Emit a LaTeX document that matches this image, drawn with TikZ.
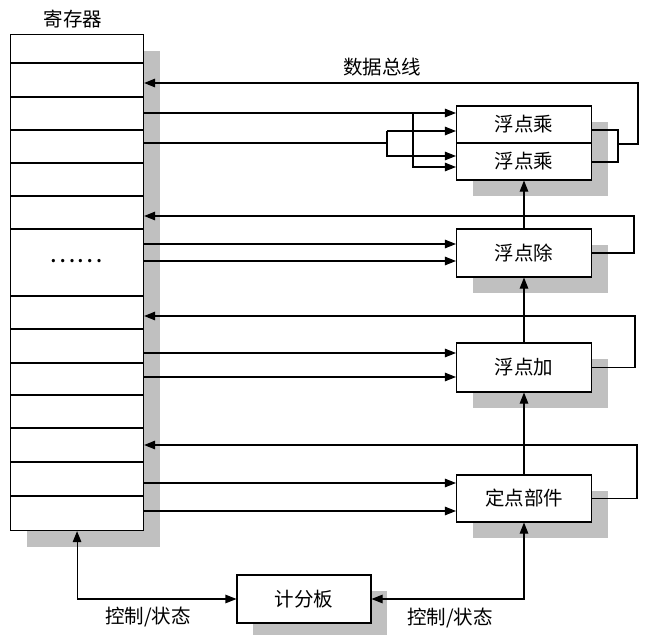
\documentclass[tikz,border=0pt]{standalone}
\usepackage{fontspec}
\newfontfamily\cjk{Noto Sans CJK SC}
\usetikzlibrary{arrows.meta,shadows}
\definecolor{shd}{RGB}{192,192,192}
\begin{document}
\begin{tikzpicture}[x=1pt,y=-1pt,line width=1.1pt,
  shd/.style={drop shadow={shadow xshift=16pt,shadow yshift=-16pt,fill=shd,opacity=1}},
  box/.style={draw,fill=white,minimum width=135pt,minimum height=48pt,inner sep=0pt,
    font=\cjk\fontsize{19.5}{19.5}\selectfont,shd},
  arr/.style={-{Triangle[length=11pt,width=8.5pt]}},
  dbl/.style={{Triangle[length=11pt,width=8.5pt]}-{Triangle[length=11pt,width=8.5pt]}},
  lbl/.style={font=\cjk\fontsize{19.5}{19.5}\selectfont,inner sep=0pt}]
\useasboundingbox (0,0) rectangle (657,635);

% register file
\node[draw,fill=white,minimum width=133pt,minimum height=496pt,inner sep=0pt,
      anchor=north west,shd] (reg) at (10,34) {};
\foreach \yy in {63,97,130,163,196,229,296,329,363,395,428,462,496}
  \draw (reg.west |- 0,\yy) -- (reg.east |- 0,\yy);
\node[font=\cjk\fontsize{25}{25}\selectfont,inner sep=0pt] (dots) at (76,261) {……};

% functional units
\node[box,minimum height=37pt] (mul1) at (524,124.5) {浮点乘};
\node[box,minimum height=37pt] (mul2) at (524,161.5) {浮点乘};
\node[box] (div) at (524,253) {浮点除};
\node[box,minimum height=49pt] (add) at (524,367.5) {浮点加};
\node[box,minimum height=47pt] (fix) at (524,498.5) {定点部件};
\node[box,minimum width=134pt] (score) at (304,599) {计分板};

% labels
\node[lbl] (lreg) at (73,19) {寄存器};
\node[lbl] (lbus) at (382,67) {数据总线};
\node[lbl] (lc1) at (148,617) {控制/状态};
\node[lbl] (lc2) at (450,618) {控制/状态};

% coordinates
\coordinate (ma1) at (413,113);
\coordinate (ma2) at (413,167);
\coordinate (mb) at (387,143);
\coordinate (mb1) at (387,131);
\coordinate (mb2) at (387,156);
\coordinate (mo1) at (618,130);
\coordinate (mo2) at (618,162);
\coordinate (mj) at (618,144);
\coordinate (bus1) at (638,83);
\coordinate (bus2) at (634,216);
\coordinate (bus3) at (635,316);
\coordinate (bus4) at (637,445);
\coordinate (d1) at (0,244);
\coordinate (d2) at (0,261);
\coordinate (a1) at (0,353);
\coordinate (a2) at (0,377);
\coordinate (f1) at (0,483);
\coordinate (f2) at (0,511);

% inputs to multipliers
\draw[arr] (reg.east |- ma1) -- (mul1.west |- ma1);
\draw[arr] (ma1) -- (ma2) -- (mul2.west |- ma2);
\draw (reg.east |- mb) -- (mb);
\draw[arr] (mb1) -- (mul1.west |- mb1);
\draw[arr] (mb1) -- (mb2) -- (mul2.west |- mb2);

% inputs to other units
\draw[arr] (reg.east |- d1) -- (div.west |- d1);
\draw[arr] (reg.east |- d2) -- (div.west |- d2);
\draw[arr] (reg.east |- a1) -- (add.west |- a1);
\draw[arr] (reg.east |- a2) -- (add.west |- a2);
\draw[arr] (reg.east |- f1) -- (fix.west |- f1);
\draw[arr] (reg.east |- f2) -- (fix.west |- f2);

% results back to registers (data bus)
\draw (mul1.east |- mo1) -- (mo1) -- (mo2) -- (mul2.east |- mo2);
\draw[arr] (mj) -| (bus1) -- (reg.east |- bus1);
\draw[arr] (div.east) -| (bus2) -- (reg.east |- bus2);
\draw[arr] (add.east) -| (bus3) -- (reg.east |- bus3);
\draw[arr] (fix.east) -| (bus4) -- (reg.east |- bus4);

% chain between units
\draw[arr] (fix.north) -- (add.south);
\draw[arr] (add.north) -- (div.south);
\draw[arr] (div.north) -- (mul2.south);

% scoreboard control
\draw[dbl] (reg.south) |- (score.west);
\draw[dbl] (fix.south) |- (score.east);
\end{tikzpicture}
\end{document}
